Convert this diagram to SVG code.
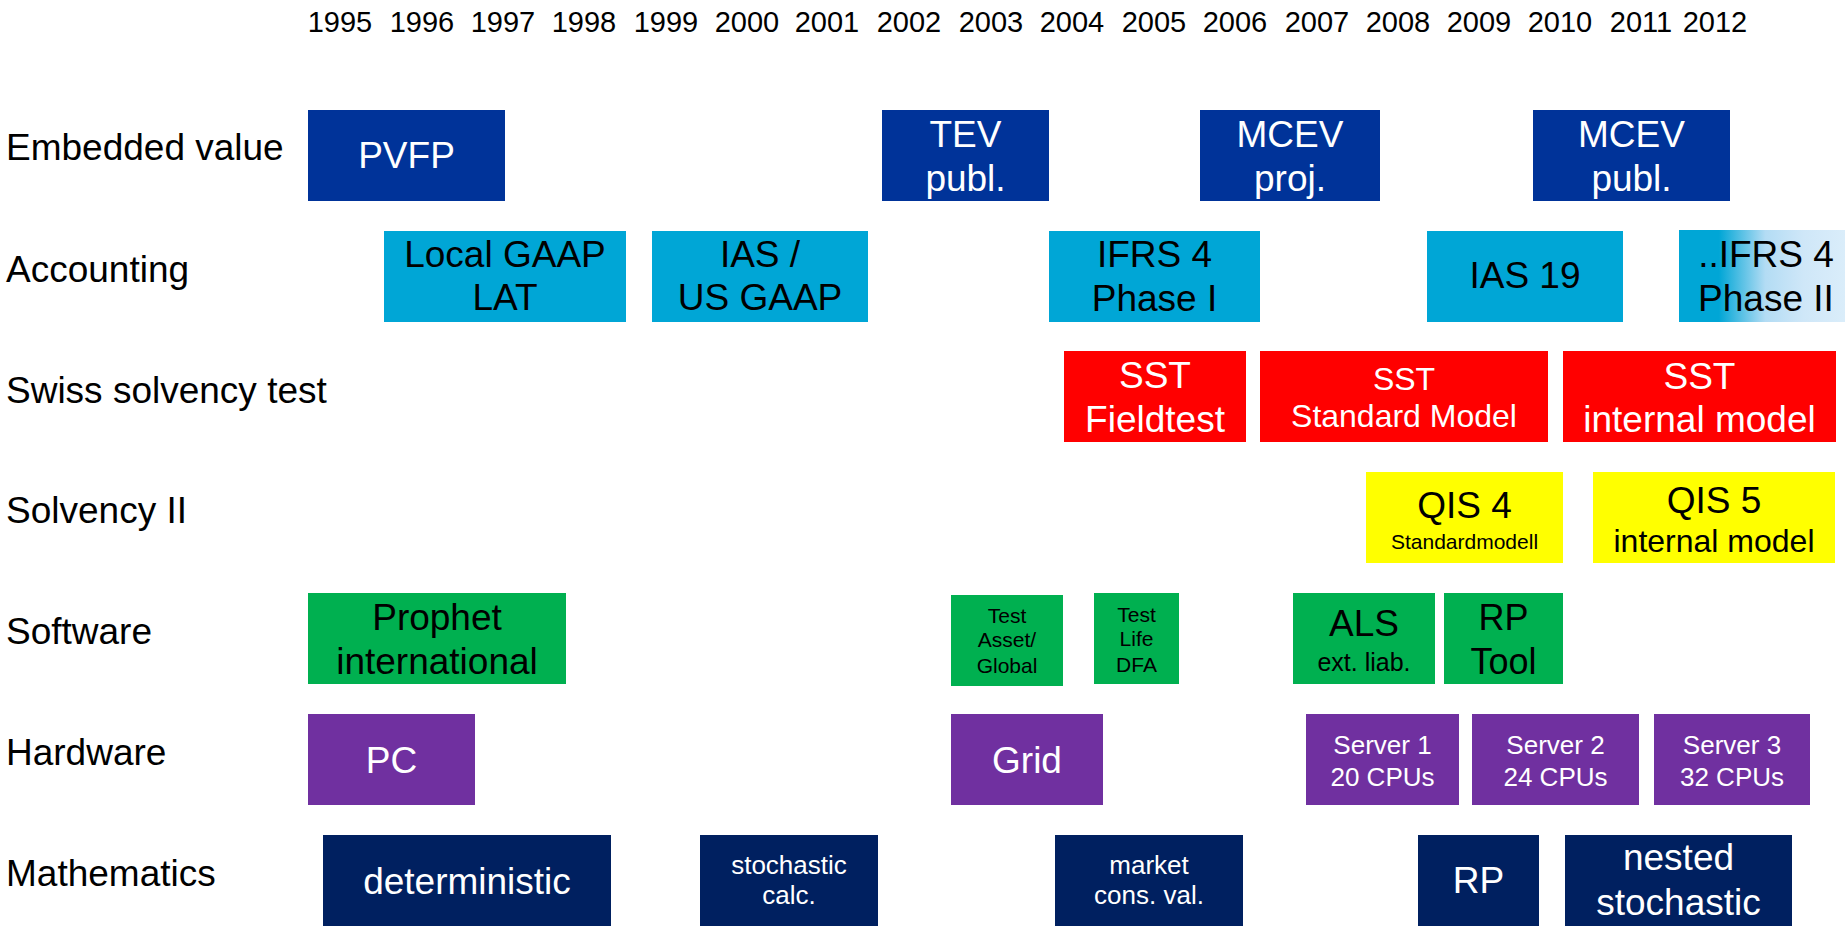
<svg xmlns="http://www.w3.org/2000/svg" width="1845" height="930" viewBox="0 0 1845 930">
<style>
text{font-family:"Liberation Sans",Arial,sans-serif;}
.yr{font-size:29px;fill:#000;text-anchor:middle;}
.row{font-size:37px;fill:#000;}
.t{text-anchor:middle;font-size:37px;}
.w{fill:#fff;}
.k{fill:#000;}
.ev{fill:#003399;}
.acc{fill:#00A6D6;}
.sst{fill:#FF0000;}
.s2{fill:#FFFF00;}
.sw{fill:#00B050;}
.hw{fill:#7030A0;}
.ma{fill:#002060;}
</style>
<defs>
<linearGradient id="fade" x1="0" y1="0" x2="1" y2="0">
<stop offset="0" stop-color="#00A6D6"/>
<stop offset="0.24" stop-color="#00A6D6"/>
<stop offset="0.52" stop-color="#B3DCF4"/>
<stop offset="0.75" stop-color="#CFE7F8"/>
<stop offset="1" stop-color="#DAEDFA"/>
</linearGradient>
</defs>
<g id="years">
<text class="yr" x="340" y="32">1995</text>
<text class="yr" x="422" y="32">1996</text>
<text class="yr" x="503" y="32">1997</text>
<text class="yr" x="584" y="32">1998</text>
<text class="yr" x="666" y="32">1999</text>
<text class="yr" x="747" y="32">2000</text>
<text class="yr" x="827" y="32">2001</text>
<text class="yr" x="909" y="32">2002</text>
<text class="yr" x="991" y="32">2003</text>
<text class="yr" x="1072" y="32">2004</text>
<text class="yr" x="1154" y="32">2005</text>
<text class="yr" x="1235" y="32">2006</text>
<text class="yr" x="1317" y="32">2007</text>
<text class="yr" x="1398" y="32">2008</text>
<text class="yr" x="1479" y="32">2009</text>
<text class="yr" x="1560" y="32">2010</text>
<text class="yr" x="1641" y="32">2011</text>
<text class="yr" x="1715" y="32">2012</text>
</g>
<g id="row-labels">
<text class="row" x="6" y="160">Embedded value</text>
<text class="row" x="6" y="282">Accounting</text>
<text class="row" x="6" y="403">Swiss solvency test</text>
<text class="row" x="6" y="523">Solvency II</text>
<text class="row" x="6" y="644">Software</text>
<text class="row" x="6" y="765">Hardware</text>
<text class="row" x="6" y="886">Mathematics</text>
</g>
<g id="pvfp"><rect class="ev" x="308" y="110" width="197" height="91"/><text class="t w" x="406.5" y="168">PVFP</text></g>
<g id="tev"><rect class="ev" x="882" y="110" width="167" height="91"/><text class="t w" x="965.5" y="147">TEV</text><text class="t w" x="965.5" y="191">publ.</text></g>
<g id="mcev-proj"><rect class="ev" x="1200" y="110" width="180" height="91"/><text class="t w" x="1290" y="147">MCEV</text><text class="t w" x="1290" y="191">proj.</text></g>
<g id="mcev-publ"><rect class="ev" x="1533" y="110" width="197" height="91"/><text class="t w" x="1631.5" y="147">MCEV</text><text class="t w" x="1631.5" y="191">publ.</text></g>
<g id="local-gaap"><rect class="acc" x="384" y="231" width="242" height="91"/><text class="t k" x="505" y="267">Local GAAP</text><text class="t k" x="505" y="310">LAT</text></g>
<g id="ias-usgaap"><rect class="acc" x="652" y="231" width="216" height="91"/><text class="t k" x="760" y="267">IAS /</text><text class="t k" x="760" y="310">US GAAP</text></g>
<g id="ifrs4-1"><rect class="acc" x="1049" y="231" width="211" height="91"/><text class="t k" x="1154.5" y="267">IFRS 4</text><text class="t k" x="1154.5" y="311">Phase I</text></g>
<g id="ias19"><rect class="acc" x="1427" y="231" width="196" height="91"/><text class="t k" x="1525" y="288">IAS 19</text></g>
<g id="ifrs4-2"><rect fill="url(#fade)" x="1679" y="230" width="166" height="92"/><text class="t k" x="1766" y="267">..IFRS 4</text><text class="t k" x="1766" y="311">Phase II</text></g>
<g id="sst-field"><rect class="sst" x="1064" y="351" width="182" height="91"/><text class="t w" x="1155" y="388">SST</text><text class="t w" x="1155" y="432">Fieldtest</text></g>
<g id="sst-std"><rect class="sst" x="1260" y="351" width="288" height="91"/><text class="t w" x="1404" y="390" style="font-size:32px">SST</text><text class="t w" x="1404" y="427" style="font-size:32px">Standard Model</text></g>
<g id="sst-int"><rect class="sst" x="1563" y="351" width="273" height="91"/><text class="t w" x="1699.5" y="389">SST</text><text class="t w" x="1699.5" y="432">internal model</text></g>
<g id="qis4"><rect class="s2" x="1366" y="472" width="197" height="91"/><text class="t k" x="1464.5" y="518">QIS 4</text><text class="t k" x="1464.5" y="549" style="font-size:21px">Standardmodell</text></g>
<g id="qis5"><rect class="s2" x="1593" y="472" width="242" height="91"/><text class="t k" x="1714" y="513">QIS 5</text><text class="t k" x="1714" y="552" style="font-size:32px">internal model</text></g>
<g id="prophet"><rect class="sw" x="308" y="593" width="258" height="91"/><text class="t k" x="437" y="630">Prophet</text><text class="t k" x="437" y="674">international</text></g>
<g id="test-asset"><rect class="sw" x="951" y="595" width="112" height="91"/><text class="t k" x="1007" y="623" style="font-size:21px">Test</text><text class="t k" x="1007" y="647" style="font-size:21px">Asset/</text><text class="t k" x="1007" y="672.5" style="font-size:21px">Global</text></g>
<g id="test-life"><rect class="sw" x="1094" y="593" width="85" height="91"/><text class="t k" x="1136.5" y="622" style="font-size:21px">Test</text><text class="t k" x="1136.5" y="646" style="font-size:21px">Life</text><text class="t k" x="1136.5" y="672" style="font-size:21px">DFA</text></g>
<g id="als"><rect class="sw" x="1293" y="593" width="142" height="91"/><text class="t k" x="1364" y="636">ALS</text><text class="t k" x="1364" y="671" style="font-size:25px">ext. liab.</text></g>
<g id="rp-tool"><rect class="sw" x="1444" y="593" width="119" height="91"/><text class="t k" x="1503.5" y="630" style="font-size:36px">RP</text><text class="t k" x="1503.5" y="674" style="font-size:36px">Tool</text></g>
<g id="pc"><rect class="hw" x="308" y="714" width="167" height="91"/><text class="t w" x="391.5" y="773">PC</text></g>
<g id="grid"><rect class="hw" x="951" y="714" width="152" height="91"/><text class="t w" x="1027" y="773">Grid</text></g>
<g id="server1"><rect class="hw" x="1306" y="714" width="153" height="91"/><text class="t w" x="1382.5" y="754" style="font-size:26px">Server 1</text><text class="t w" x="1382.5" y="786" style="font-size:26px">20 CPUs</text></g>
<g id="server2"><rect class="hw" x="1472" y="714" width="167" height="91"/><text class="t w" x="1555.5" y="754" style="font-size:26px">Server 2</text><text class="t w" x="1555.5" y="786" style="font-size:26px">24 CPUs</text></g>
<g id="server3"><rect class="hw" x="1654" y="714" width="156" height="91"/><text class="t w" x="1732" y="754" style="font-size:26px">Server 3</text><text class="t w" x="1732" y="786" style="font-size:26px">32 CPUs</text></g>
<g id="deterministic"><rect class="ma" x="323" y="835" width="288" height="91"/><text class="t w" x="467" y="894">deterministic</text></g>
<g id="stoch-calc"><rect class="ma" x="700" y="835" width="178" height="91"/><text class="t w" x="789" y="874" style="font-size:26px">stochastic</text><text class="t w" x="789" y="904" style="font-size:26px">calc.</text></g>
<g id="market-cons"><rect class="ma" x="1055" y="835" width="188" height="91"/><text class="t w" x="1149" y="874" style="font-size:26px">market</text><text class="t w" x="1149" y="904" style="font-size:26px">cons. val.</text></g>
<g id="rp-math"><rect class="ma" x="1418" y="835" width="121" height="91"/><text class="t w" x="1478.5" y="893">RP</text></g>
<g id="nested"><rect class="ma" x="1565" y="835" width="227" height="91"/><text class="t w" x="1678.5" y="870">nested</text><text class="t w" x="1678.5" y="915">stochastic</text></g>
<g id="connectors"></g>
</svg>
